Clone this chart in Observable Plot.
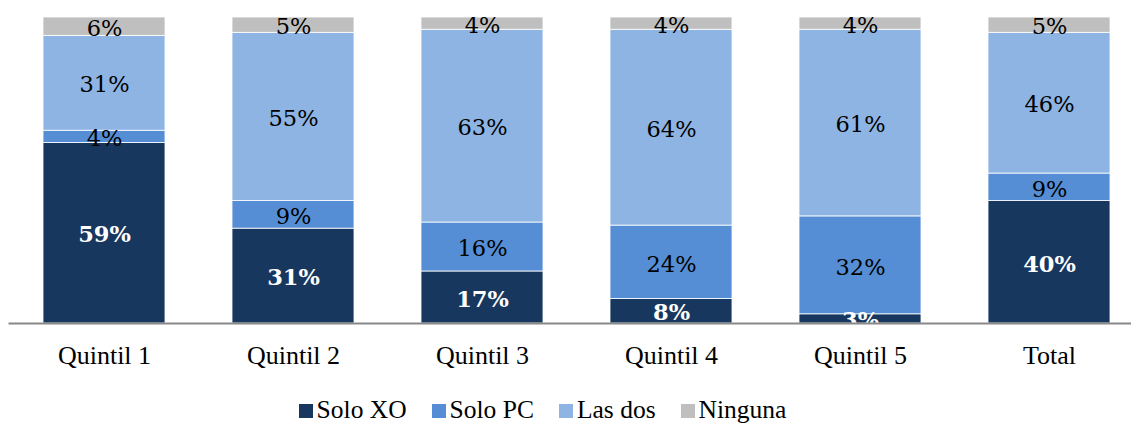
<!DOCTYPE html>
<html>
<head>
<meta charset="utf-8">
<script src="https://cdn.jsdelivr.net/npm/d3@7"></script>
<script src="https://cdn.jsdelivr.net/npm/@observablehq/plot@0.6"></script>
<style>
  html, body { margin: 0; padding: 0; background: #fff; overflow: hidden; }
  #legend { display: flex; justify-content: center; align-items: center; gap: 25px;
    font-family: "Liberation Serif", "Times New Roman", serif; font-size: 25.5px; color: #000;
    height: 41px; padding-right: 46px; }
  #legend .item { display: flex; align-items: center; gap: 4px; position: relative; top: 5px; line-height: 1.1; }
  #legend .sw { width: 14px; height: 14px; display: inline-block; position: relative; top: 1px; }
</style>
</head>
<body>
<div id="chart"></div>
<div id="legend"></div>
<script>
const categories = ["Quintil 1", "Quintil 2", "Quintil 3", "Quintil 4", "Quintil 5", "Total"];
const seriesNames = ["Solo XO", "Solo PC", "Las dos", "Ninguna"];
const soloXO  = [59, 31, 17, 8, 3, 40];
const soloPC  = [4, 9, 16, 24, 32, 9];
const lasDos  = [31, 55, 63, 64, 61, 46];
const ninguna = [6, 5, 4, 4, 4, 5];
const colors = ["#17375E", "#558ED5", "#8EB4E3", "#BFBFBF"];

const seriesValues = [soloXO, soloPC, lasDos, ninguna];
const data = [];
categories.forEach((c, i) => {
  seriesNames.forEach((s, j) => {
    data.push({category: c, series: s, value: seriesValues[j][i]});
  });
});

const W = 1131, H = 385;
const stackOpts = {x: "category", y: "value", z: "series", order: seriesNames};
const textBase = {
  fontFamily: "'DejaVu Serif', serif",
  fontSize: 22.5,
  dy: 2,
  clip: "frame"
};
const chart = Plot.plot({
  width: W,
  height: H,
  marginTop: 17,
  marginBottom: 62,
  marginLeft: 8.5,
  marginRight: -12.7,
  style: {fontFamily: "'Liberation Serif', 'Times New Roman', serif", background: "#fff", overflow: "hidden"},
  x: {domain: categories, paddingInner: 0.355, paddingOuter: 0.1775, label: null},
  y: {domain: [0, 100], axis: null},
  color: {domain: seriesNames, range: colors},
  marks: [
    Plot.barY(data, Plot.stackY({...stackOpts, fill: "series", stroke: "white", strokeWidth: 0.8})),
    Plot.text(data, Plot.stackY({...stackOpts, ...textBase,
      text: d => d.series === "Solo XO" ? d.value + "%" : "",
      fill: "white", fontWeight: "bold"})),
    Plot.text(data, Plot.stackY({...stackOpts, ...textBase,
      text: d => d.series !== "Solo XO" ? d.value + "%" : "",
      fill: "black"})),
    Plot.ruleY([0], {stroke: "#888", strokeWidth: 2}),
    Plot.axisX({tickSize: 0, tickPadding: 22, fontSize: 26, fill: "black", label: null})
  ]
});
document.getElementById("chart").appendChild(chart);

const legend = document.getElementById("legend");
seriesNames.forEach((s, j) => {
  const item = document.createElement("div");
  item.className = "item";
  const sw = document.createElement("span");
  sw.className = "sw";
  sw.style.background = colors[j];
  const t = document.createElement("span");
  t.textContent = s;
  item.appendChild(sw);
  item.appendChild(t);
  legend.appendChild(item);
});
</script>
</body>
</html>
